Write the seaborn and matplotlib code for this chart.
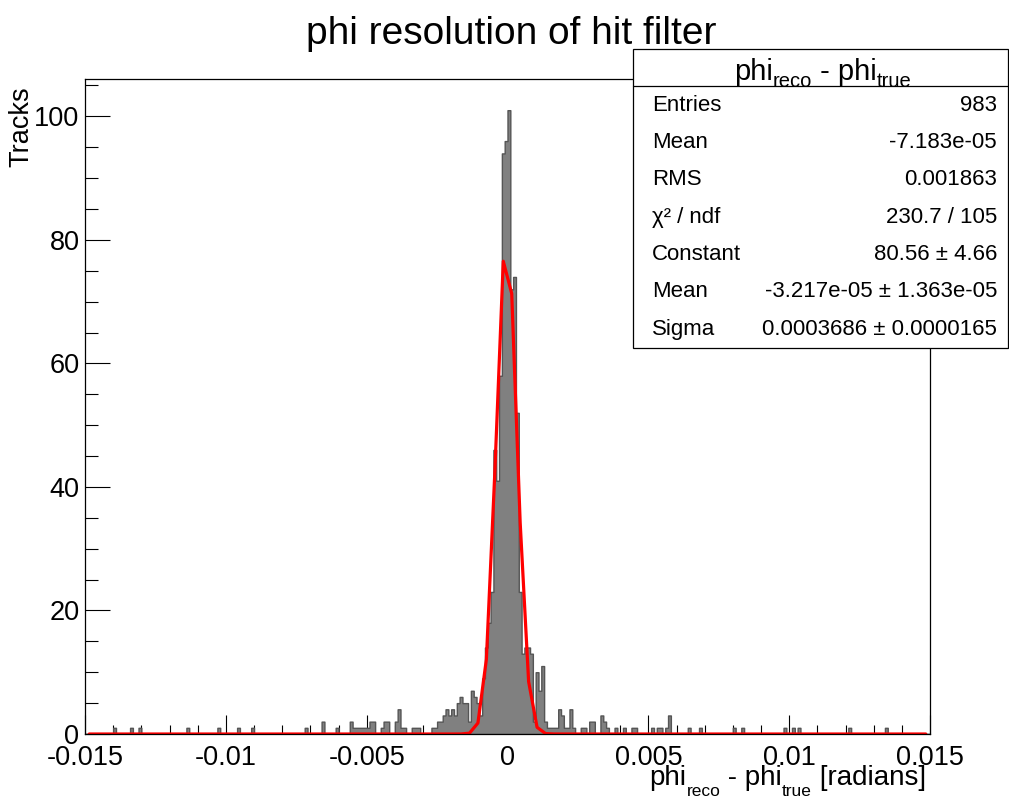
import numpy as np
import pandas as pd
import matplotlib
matplotlib.use("Agg")
import matplotlib.pyplot as plt
from matplotlib.ticker import MultipleLocator, FixedLocator, FixedFormatter
from matplotlib.patches import Rectangle
from matplotlib.lines import Line2D
import seaborn as sns

# ---------------- data ----------------
x_min, x_max, n_bins = -0.015, 0.015, 300
# non-empty bins: index relative to the bin starting at 0 (width 1e-4)
bin_offset = [-140, -134, -131, -114, -103, -96, -91, -72, -66, -61,
              -56, -55, -54, -53, -52, -51, -50, -49, -48, -45, -44, -43,
              -40, -39, -38, -37, -34, -33, -32, -27, -26, -25, -24, -23,
              -22, -21, -20, -19, -18, -17, -16, -15, -14, -13, -12, -11,
              -10, -9, -8, -7, -6, -5, -4, -3, -2, -1, 0, 1, 2, 3, 4, 5, 6,
              7, 8, 9, 10, 11, 12, 13, 14, 15, 16, 17, 18, 19, 20, 21, 22,
              23, 26, 27, 29, 30, 33, 34, 35, 38, 41, 44, 45, 51, 53, 54,
              56, 57, 64, 68, 80, 83, 98, 101, 103, 121, 134]
bin_count = [1, 1, 1, 1, 1, 1, 1, 1, 2, 1,
             2, 1, 1, 1, 1, 1, 1, 2, 2, 1, 2, 2,
             2, 4, 1, 1, 1, 1, 1, 1, 1, 2, 2, 3,
             4, 3, 4, 3, 5, 6, 5, 5, 2, 7, 6, 5,
             3, 9, 14, 18, 23, 46, 41, 58, 94, 96, 101, 72, 74, 52, 23, 13, 14,
             14, 13, 2, 10, 7, 11, 2, 1, 1, 1, 1, 4, 3, 1, 1, 4,
             1, 1, 1, 2, 2, 3, 2, 1, 1, 1, 1, 1, 1, 1, 1,
             1, 3, 1, 1, 1, 1, 1, 1, 1, 1, 1]

# Gaussian fit parameters (from stats box)
fit_const, fit_mean, fit_sigma = 80.56, -3.217e-05, 0.0003686
fit_npx = 100

x_ticks = [-0.015, -0.01, -0.005, 0.0, 0.005, 0.01, 0.015]
x_tick_labels = ["-0.015", "-0.01", "-0.005", "0", "0.005", "0.01", "0.015"]
y_ticks = [0, 20, 40, 60, 80, 100]

stats_labels = ["Entries", "Mean", "RMS", "χ² / ndf", "Constant", "Mean", "Sigma"]
stats_values = ["983", "-7.183e-05", "0.001863", "230.7 / 105",
                "80.56 ± 4.66", "-3.217e-05 ± 1.363e-05", "0.0003686 ± 0.0000165"]

title = "phi resolution of hit filter"
y_title = "Tracks"

# ---------------- build histogram table ----------------
edges = np.linspace(x_min, x_max, n_bins + 1)
width = (x_max - x_min) / n_bins
counts = np.zeros(n_bins)
for off, c in zip(bin_offset, bin_count):
    counts[n_bins // 2 + off] = c
hist_df = pd.DataFrame({"x": edges[:-1] + 0.5 * width, "w": counts})

fx = x_min + (np.arange(fit_npx) + 0.5) * (x_max - x_min) / fit_npx
fy = fit_const * np.exp(-0.5 * ((fx - fit_mean) / fit_sigma) ** 2)
fit_df = pd.DataFrame({"x": fx, "y": fy})

# ---------------- style ----------------
sns.set_theme(style="white")
plt.rcParams["font.family"] = ["Liberation Sans", "DejaVu Sans"]
plt.rcParams["text.color"] = "black"
plt.rcParams["xtick.color"] = "black"
plt.rcParams["ytick.color"] = "black"
plt.rcParams["axes.labelcolor"] = "black"

W, H = 1009, 800
fig = plt.figure(figsize=(W / 100, H / 100), dpi=100)
ax = fig.add_axes([85 / W, 1 - 734 / H, (930 - 85) / W, (734 - 79) / H])

sns.histplot(data=hist_df, x="x", weights="w", bins=list(edges), element="step",
             fill=True, color="#808080", alpha=1, edgecolor="#555555",
             linewidth=1.0, ax=ax)
sns.lineplot(data=fit_df, x="x", y="y", color="red", linewidth=2.3, ax=ax,
             sort=False, estimator=None)

ax.set_xlim(x_min, x_max)
ax.set_ylim(0, 101 * 1.05)
ax.set_xlabel("")
ax.set_ylabel("")

ax.xaxis.set_major_locator(FixedLocator(x_ticks))
ax.xaxis.set_major_formatter(FixedFormatter(x_tick_labels))
ax.xaxis.set_minor_locator(MultipleLocator(0.001))
ax.yaxis.set_major_locator(FixedLocator(y_ticks))
ax.yaxis.set_minor_locator(MultipleLocator(5))

ax.tick_params(axis="x", which="major", direction="in", length=13.7, width=0.8,
               labelsize=19.5, pad=8, bottom=True, top=False)
ax.tick_params(axis="x", which="minor", direction="in", length=6.8, width=0.8,
               bottom=True, top=False)
ax.tick_params(axis="y", which="major", direction="in", length=18, width=0.8,
               labelsize=19.5, pad=4, left=True, right=False)
ax.tick_params(axis="y", which="minor", direction="in", length=9, width=0.8,
               left=True, right=False)
for s in ax.spines.values():
    s.set_color("black")
    s.set_linewidth(0.9)

renderer = fig.canvas.get_renderer()


def draw_pieces(pieces, x_px, ha="left", zorder=7):
    """pieces: (text, fontsize_pt, baseline_y_px)"""
    arts, widths = [], []
    for txt, size, by in pieces:
        t = fig.text(0, 1 - by / H, txt, fontsize=size, ha="left", va="baseline",
                     zorder=zorder)
        arts.append(t)
        widths.append(t.get_window_extent(renderer).width)
    total = sum(widths)
    x = x_px - (total if ha == "right" else total / 2 if ha == "center" else 0)
    for t, w in zip(arts, widths):
        t.set_x(x / W)
        x += w


# titles
fig.text(511 / W, 1 - 34 / H, title, ha="center", va="center", fontsize=28)
fig.text(21 / W, 1 - 86 / H, y_title, rotation=90, ha="center", va="top", fontsize=19.5)
draw_pieces([("phi", 20, 785), ("reco", 12.5, 796), (" - phi", 20, 785),
             ("true", 12.5, 796), (" [radians]", 20, 785)], 926, ha="right")

# stats box
bx0, bx1, by0, by1 = 633, 1008, 49, 348
fig.patches.append(Rectangle((bx0 / W, 1 - by1 / H), (bx1 - bx0) / W, (by1 - by0) / H,
                             transform=fig.transFigure, facecolor="white",
                             edgecolor="black", linewidth=0.9, zorder=5))
row_h = (by1 - by0) / 8
sep_y = by0 + row_h
fig.lines.append(Line2D([bx0 / W, bx1 / W], [1 - sep_y / H, 1 - sep_y / H],
                        transform=fig.transFigure, color="black", linewidth=0.9, zorder=6))
draw_pieces([("phi", 21, 80), ("reco", 14.5, 87), (" - phi", 21, 80),
             ("true", 14.5, 87)], 823, ha="center")
for i, (lab, val) in enumerate(zip(stats_labels, stats_values)):
    yc = by0 + row_h * (i + 1.5)
    fig.text(652 / W, 1 - yc / H, lab, ha="left", va="center", fontsize=16, zorder=7)
    fig.text(997 / W, 1 - yc / H, val, ha="right", va="center", fontsize=16, zorder=7)

fig.savefig("out.png", dpi=100, facecolor="white")
